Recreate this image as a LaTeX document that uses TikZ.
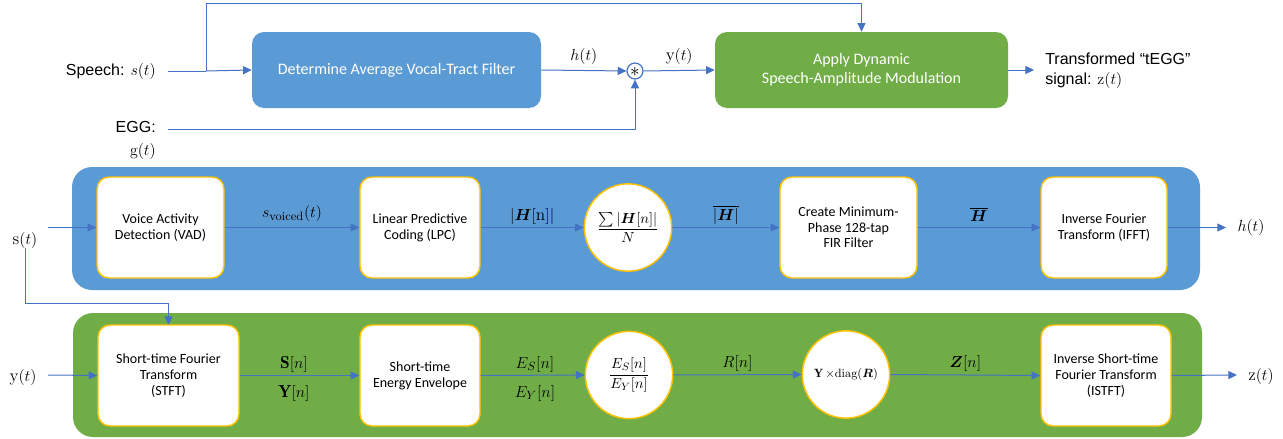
\documentclass[tikz,border=0pt]{standalone}
\usepackage{amsmath}
\usepackage{bm}
\usepackage{fontspec}
\usetikzlibrary{arrows.meta}
\newfontfamily\calfont{Carlito}
\newfontfamily\arialfont{Liberation Sans}
\definecolor{pblue}{HTML}{5B9BD5}
\definecolor{pgreen}{HTML}{70AD47}
\definecolor{porange}{HTML}{FFC000}
\definecolor{parrow}{HTML}{4472C4}
\tikzset{
  conn/.style={draw=parrow, line width=0.75pt, -{Triangle[length=6.5pt,width=6pt]}},
  topbox/.style={rounded corners=9pt, inner sep=0pt, minimum height=57pt, text=white, align=center, font=\calfont\fontsize{12}{14.5}\selectfont},
  stepbox/.style={draw=porange, line width=1.1pt, fill=white, rounded corners=9pt, inner sep=0pt, minimum height=75.75pt, align=center, font=\calfont\fontsize{10.5}{11.8}\selectfont},
  circbox/.style={draw=porange, line width=1.1pt, fill=white, circle, inner sep=0pt, minimum size=65.5pt, align=center, font=\fontsize{11}{13}\selectfont},
  lab/.style={inner sep=0pt, font=\fontsize{13}{15}\selectfont},
  side/.style={inner sep=0pt, font=\arialfont\fontsize{12}{15}\selectfont},
  panel/.style={rounded corners=15pt}
}
\begin{document}
\begin{tikzpicture}[x=0.75pt,y=-0.75pt]
\useasboundingbox (0,0) rectangle (1283,439);
% ---------- top row ----------
\node[side, anchor=east] (speech) at (156,71) {Speech: $s(t)$};
\coordinate (sIn) at (168,71);
\coordinate (branch) at (206,71);
\coordinate (topturn) at (206,3);
\node[topbox, fill=pblue, minimum width=216.75pt] (avg) at (396.5,70) {Determine Average Vocal-Tract Filter};
\node[topbox, fill=pgreen, minimum width=219.75pt] (mod) at (861.5,70) {Apply Dynamic\\Speech-Amplitude Modulation};
\node[circle, draw=parrow, line width=0.9pt, minimum size=12pt, inner sep=0pt] (conv) at (635,71) {};
\node[inner sep=0pt] (convsym) at (635,72) {\Large$\ast$};
\node[side, anchor=east, align=right, font=\arialfont\fontsize{12}{17.5}\selectfont] (egg) at (156,140.5) {EGG:\\$\mathrm{g}(t)$};
\coordinate (eggIn) at (168,129);
\coordinate (outEnd) at (1034,70);
\node[side, anchor=west, align=left] (tegg) at (1045,71) {Transformed “tEGG”\\signal: $\mathrm{z}(t)$};
\draw[draw=parrow, line width=0.75pt] (sIn) -- (branch);
\draw[conn] (branch) -- (avg.west);
\draw[conn] (branch) -- (topturn) -| (mod.north);
\draw[conn] (avg.east) -- node[lab, above=4pt] (hlab) {$h(t)$} (conv.west);
\draw[conn] (eggIn) -| (conv.south);
\draw[conn] (conv.east) -- node[lab, above=4pt] (ylab) {$\mathrm{y}(t)$} (mod.west);
\draw[conn] (mod.east) -- (outEnd);
% ---------- middle panel ----------
\fill[pblue, panel] (72,167) rectangle (1200,290);
\node[lab] (sLab) at (25,240) {$\mathrm{s}(t)$};
\coordinate (sStart) at (48,227.5);
\node[stepbox, minimum width=95.25pt] (vad) at (160.5,227.5) {Voice Activity\\Detection (VAD)};
\node[stepbox, minimum width=90pt] (lpc) at (420,227.5) {Linear Predictive\\Coding (LPC)};
\node[circbox] (avgc) at (628,227.5) {$\dfrac{\sum|\bm{H}[n]|}{N}$};
\node[stepbox, minimum width=102.75pt] (minph) at (848.5,227.5) {Create Minimum-\\Phase 128-tap\\FIR Filter};
\node[stepbox, minimum width=94.5pt] (ifft) at (1104,227.5) {Inverse Fourier\\Transform (IFFT)};
\coordinate (hEnd) at (1226,227.5);
\node[lab] (hOut) at (1251,227.5) {$h(t)$};
\draw[conn] (sStart) -- (vad.west);
\draw[conn] (vad.east) -- node[lab, above=4pt] {$s_{\text{voiced}}(t)$} (lpc.west);
\draw[conn] (lpc.east) -- node[lab, above=2pt] {$|\bm{H}[\mathrm{n}]|$} (avgc.west);
\draw[conn] (avgc.east) -- node[lab, above=2pt] {$\overline{|\bm{H}|}$} (minph.west);
\draw[conn] (minph.east) -- node[lab, above=4pt] {$\overline{\bm{H}}$} (ifft.west);
\draw[conn] (ifft.east) -- (hEnd);
% ---------- bottom panel ----------
\fill[pgreen, panel] (73,313) rectangle (1202,437);
\coordinate (bend1) at (25,303);
\draw[conn] (sLab) -- (bend1) -| (168.5,325);
\node[lab] (yLab) at (23,377) {$\mathrm{y}(t)$};
\coordinate (yStart) at (48,375);
\node[stepbox, minimum width=105.75pt] (stft) at (168.5,375.5) {Short-time Fourier\\Transform\\(STFT)};
\node[stepbox, minimum width=90pt] (energy) at (420,375.5) {Short-time\\Energy Envelope};
\node[circbox] (ratio) at (629,375) {$\dfrac{E_S[n]}{E_Y[n]}$};
\node[circbox, font=\fontsize{9}{11}\selectfont] (mult) at (846,374.5) {$\mathbf{Y}\,{\times}\mathrm{diag}(\bm{R})$};
\node[stepbox, minimum width=97.5pt] (istft) at (1106,375.5) {Inverse Short-time\\Fourier Transform\\(ISTFT)};
\coordinate (zEnd) at (1237,375);
\node[lab] (zOut) at (1261,376) {$\mathrm{z}(t)$};
\draw[conn] (yStart) -- (stft.west);
\draw[conn] (stft.east) -- (energy.west);
\node[lab] (Sn) at (294,364) {$\mathbf{S}[n]$};
\node[lab] (Yn) at (294,393) {$\mathbf{Y}[n]$};
\draw[conn] (energy.east) -- (ratio.west);
\node[lab] (ESn) at (535,364) {$E_S[n]$};
\node[lab] (EYn) at (535,393) {$E_Y[n]$};
\draw[conn] (ratio.east) -- node[lab, above=2pt] {$R[n]$} (mult.west);
\draw[conn] (mult.east) -- node[lab, above=2pt] {$\bm{Z}[n]$} (istft.west);
\draw[conn] (istft.east) -- (zEnd);
\end{tikzpicture}
\end{document}
